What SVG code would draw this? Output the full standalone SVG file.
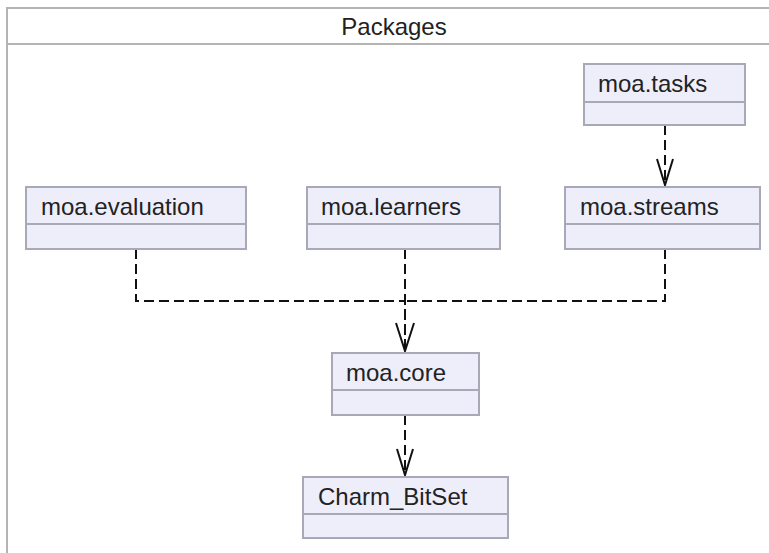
<svg xmlns="http://www.w3.org/2000/svg" width="769" height="553" viewBox="0 0 769 553">
<style>
.frame{fill:#ffffff;stroke:#b4b4b4;stroke-width:2}
.box{fill:#eeeefb;stroke:#a8a8b8;stroke-width:2}
.sep{stroke:#a8a8b8;stroke-width:2}
.t{font-family:"Liberation Sans",Arial,sans-serif;font-size:24px;fill:#222222}
.title{font-family:"Liberation Sans",Arial,sans-serif;font-size:24px;fill:#222222;text-anchor:middle}
.dep{fill:none;stroke:#111111;stroke-width:2;stroke-dasharray:10,5}
.head{fill:none;stroke:#111111;stroke-width:2}
</style>
<rect width="769" height="553" fill="#ffffff"/>
<g id="frame">
<rect class="frame" x="7" y="8" width="780" height="560"/>
<line x1="7" y1="44" x2="787" y2="44" stroke="#b4b4b4" stroke-width="2"/>
<text class="title" x="394" y="35">Packages</text>
</g>
<g id="connectors">
<path class="dep" d="M665,125 L665,185"/>
<path class="head" d="M657,159 L665,185 L673,159"/>
<path class="dep" d="M136,249 L136,301 L405,301 L405,351"/>
<path class="dep" d="M405,249 L405,351"/>
<path class="dep" d="M665,249 L665,301 L405,301"/>
<path class="head" d="M396,323 L405,351 L414,323"/>
<path class="dep" d="M405,415 L405,475"/>
<path class="head" d="M397,449 L405,475 L413,449"/>
</g>
<g id="moa_tasks">
<rect class="box" x="584" y="64" width="161" height="61"/>
<line class="sep" x1="584" y1="102" x2="745" y2="102"/>
<text class="t" x="598" y="92">moa.tasks</text>
</g>
<g id="moa_evaluation">
<rect class="box" x="26" y="187" width="220" height="62"/>
<line class="sep" x1="26" y1="224" x2="246" y2="224"/>
<text class="t" x="41" y="215">moa.evaluation</text>
</g>
<g id="moa_learners">
<rect class="box" x="307" y="187" width="193" height="62"/>
<line class="sep" x1="307" y1="224" x2="500" y2="224"/>
<text class="t" x="321" y="215">moa.learners</text>
</g>
<g id="moa_streams">
<rect class="box" x="565" y="187" width="195" height="62"/>
<line class="sep" x1="565" y1="224" x2="760" y2="224"/>
<text class="t" x="580" y="215">moa.streams</text>
</g>
<g id="moa_core">
<rect class="box" x="332" y="353" width="147" height="62"/>
<line class="sep" x1="332" y1="390" x2="479" y2="390"/>
<text class="t" x="346" y="381">moa.core</text>
</g>
<g id="charm_bitset">
<rect class="box" x="303" y="477" width="205" height="61"/>
<line class="sep" x1="303" y1="514" x2="508" y2="514"/>
<text class="t" x="318" y="505">Charm_BitSet</text>
</g>
</svg>
